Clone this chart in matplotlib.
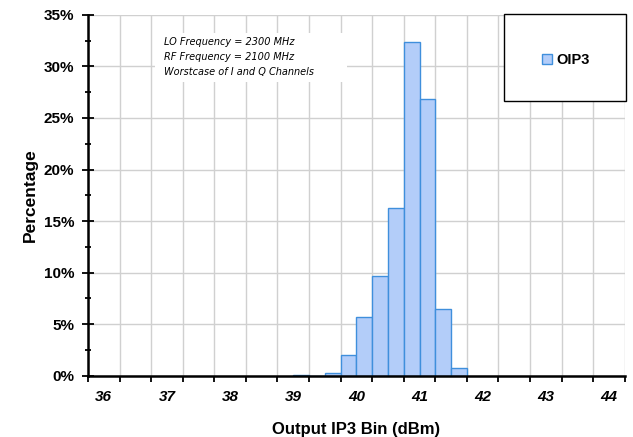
import matplotlib
matplotlib.use("Agg")
import matplotlib.pyplot as plt
from matplotlib.patches import Rectangle
from matplotlib.ticker import FixedLocator, PercentFormatter

# Data: 0.25 dBm bins (left edges) and share of parts in each bin
bin_left = [39.0, 39.25, 39.5, 39.75, 40.0, 40.25, 40.5, 40.75, 41.0, 41.25, 41.5]
percent = [0.05, 0.0, 0.32, 2.0, 5.66, 9.68, 16.28, 32.36, 26.8, 6.47, 0.78]
bin_width = 0.25
x_labels = [36, 37, 38, 39, 40, 41, 42, 43, 44]
series_name = "OIP3"
note_lines = ["LO Frequency = 2300 MHz",
              "RF Frequency = 2100 MHz",
              "Worstcase of I and Q Channels"]

plt.rcParams["font.family"] = ["Liberation Sans", "DejaVu Sans"]

fig = plt.figure(figsize=(6.33, 4.37), dpi=100)
ax = fig.add_axes([0.139, 0.140, 0.848, 0.826])

ax.bar(bin_left, [p / 100 for p in percent], width=bin_width, align="edge",
       color="#b3cdf9", edgecolor="#3f8fdc", linewidth=1.0, zorder=3,
       label=series_name)

# axes range and ticks
ax.set_xlim(35.75, 44.25)
ax.set_ylim(0, 0.35)
grid_x = [35.75 + 0.5 * i for i in range(18)]
ax.xaxis.set_major_locator(FixedLocator(grid_x))
ax.xaxis.set_minor_locator(FixedLocator(x_labels))
ax.set_xticklabels([""] * len(grid_x))
ax.set_xticklabels([str(v) for v in x_labels], minor=True,
                   fontweight="bold", fontstyle="italic", fontsize=11)
ax.tick_params(axis="x", which="major", direction="out", length=4, width=1.3,
               color="black")
ax.tick_params(axis="x", which="minor", length=0, pad=10)

ax.yaxis.set_major_locator(FixedLocator([0.05 * i for i in range(8)]))
ax.yaxis.set_minor_locator(FixedLocator([0.025 + 0.05 * i for i in range(7)]))
ax.yaxis.set_major_formatter(PercentFormatter(1.0, decimals=0))
for lbl in ax.get_yticklabels():
    lbl.set_fontweight("bold")
    lbl.set_fontsize(11)
ax.tick_params(axis="y", which="major", direction="inout", length=8, width=1.3,
               pad=6)
ax.tick_params(axis="y", which="minor", direction="inout", length=5, width=1.3)

ax.grid(True, which="major", color="#d0d0d0", linewidth=1.0, zorder=0)
ax.set_axisbelow(True)
for side in ["top", "right"]:
    ax.spines[side].set_visible(False)
for side in ["left", "bottom"]:
    ax.spines[side].set_linewidth(1.8)
    ax.spines[side].set_zorder(4)

ax.set_xlabel("Output IP3 Bin (dBm)", fontsize=12, fontweight="bold", labelpad=13)
ax.set_ylabel("Percentage", fontsize=12.5, fontweight="bold", labelpad=4)

# white note box with the test conditions
ax.add_patch(Rectangle((0.125, 0.814), 0.357, 0.136, transform=ax.transAxes,
                       facecolor="white", edgecolor="none", zorder=1))
ax.text(0.141, 0.938, "\n".join(note_lines), transform=ax.transAxes,
        fontsize=7, fontstyle="italic", family="DejaVu Sans",
        va="top", ha="left", linespacing=1.6, zorder=2)

# legend inside its own framed box
box = Rectangle((0.796, 0.769), 0.193, 0.199, transform=fig.transFigure,
                facecolor="white", edgecolor="black", linewidth=1.0, zorder=5)
fig.patches.append(box)
leg = fig.legend(loc="center", bbox_to_anchor=(0.894, 0.862), frameon=False,
                 handlelength=0.7, handleheight=0.7, handletextpad=0.3,
                 prop={"weight": "bold", "size": 10.5})
leg.set_zorder(6)

fig.savefig("out.png", dpi=100)
